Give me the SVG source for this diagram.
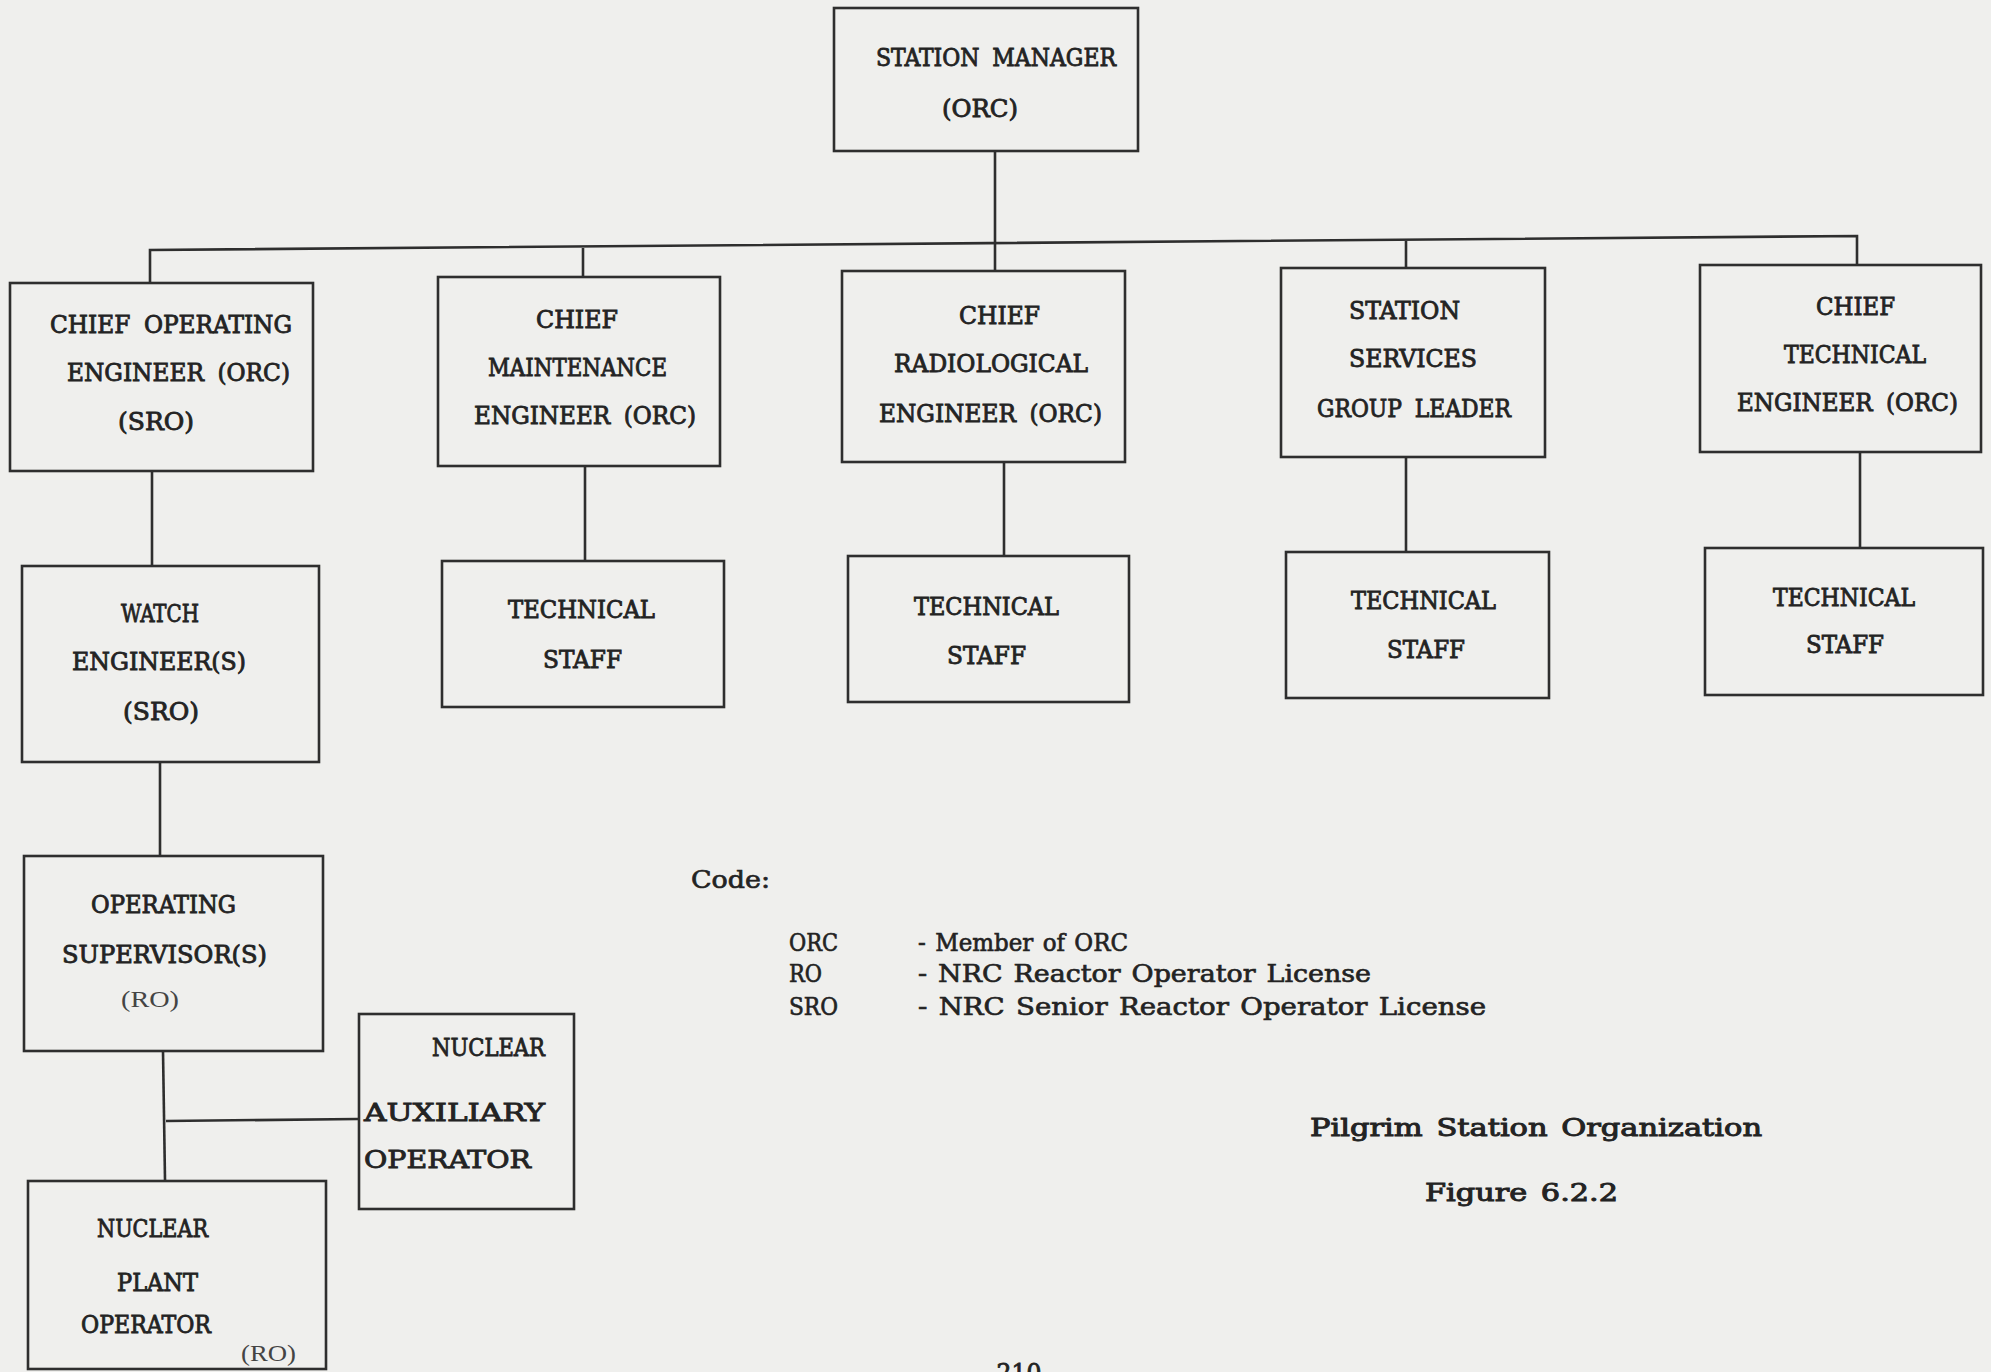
<svg xmlns="http://www.w3.org/2000/svg" width="1991" height="1372" viewBox="0 0 1991 1372">
<style>
.bg{fill:#efefed}
.box{fill:none;stroke:#2e2e2e;stroke-width:2.6}
.ln{fill:none;stroke:#2e2e2e;stroke-width:2.6}
text{font-family:"DejaVu Serif Condensed","DejaVu Serif","Liberation Serif",serif;font-stretch:condensed;font-size:25px;fill:#232323;stroke:#232323;stroke-width:0.8;word-spacing:6px}
.lg{font-size:24px;stroke-width:0.6;word-spacing:2px}
.cap{stroke-width:0.9;word-spacing:3px}
.sm{font-family:"Liberation Serif","Times New Roman",serif;font-stretch:normal;font-size:24px;fill:#444;stroke-width:0}
</style>
<rect class="bg" x="0" y="0" width="1991" height="1372"/>
<g id="connectors">
<line class="ln" x1="995" y1="151" x2="995" y2="270"/>
<polyline class="ln" points="150,282 150,250 1857,236 1857,264"/>
<line class="ln" x1="583" y1="248" x2="583" y2="276"/>
<line class="ln" x1="1406" y1="241" x2="1406" y2="267"/>
<line class="ln" x1="152" y1="471" x2="152" y2="565"/>
<line class="ln" x1="585" y1="466" x2="585" y2="560"/>
<line class="ln" x1="1004" y1="462" x2="1004" y2="555"/>
<line class="ln" x1="1406" y1="457" x2="1406" y2="551"/>
<line class="ln" x1="1860" y1="452" x2="1860" y2="547"/>
<line class="ln" x1="160" y1="762" x2="160" y2="855"/>
<polyline class="ln" points="163,1051 165,1180"/>
<line class="ln" x1="166" y1="1121" x2="358" y2="1119"/>
</g>
<g id="station-manager">
<rect class="box" x="834" y="8" width="304" height="143"/>
<text x="876" y="66" textLength="240" lengthAdjust="spacingAndGlyphs">STATION MANAGER</text>
<text x="942" y="117" textLength="76" lengthAdjust="spacingAndGlyphs">(ORC)</text>
</g>
<g id="chief-operating-engineer">
<rect class="box" x="10" y="283" width="303" height="188"/>
<text x="50" y="333" textLength="242" lengthAdjust="spacingAndGlyphs">CHIEF OPERATING</text>
<text x="67" y="381" textLength="223" lengthAdjust="spacingAndGlyphs">ENGINEER (ORC)</text>
<text x="118" y="430" textLength="76" lengthAdjust="spacingAndGlyphs">(SRO)</text>
</g>
<g id="chief-maintenance-engineer">
<rect class="box" x="438" y="277" width="282" height="189"/>
<text x="536" y="328" textLength="82" lengthAdjust="spacingAndGlyphs">CHIEF</text>
<text x="488" y="376" textLength="179" lengthAdjust="spacingAndGlyphs">MAINTENANCE</text>
<text x="474" y="424" textLength="222" lengthAdjust="spacingAndGlyphs">ENGINEER (ORC)</text>
</g>
<g id="chief-radiological-engineer">
<rect class="box" x="842" y="271" width="283" height="191"/>
<text x="959" y="324" textLength="81" lengthAdjust="spacingAndGlyphs">CHIEF</text>
<text x="894" y="372" textLength="194" lengthAdjust="spacingAndGlyphs">RADIOLOGICAL</text>
<text x="879" y="422" textLength="223" lengthAdjust="spacingAndGlyphs">ENGINEER (ORC)</text>
</g>
<g id="station-services-group-leader">
<rect class="box" x="1281" y="268" width="264" height="189"/>
<text x="1349" y="319" textLength="111" lengthAdjust="spacingAndGlyphs">STATION</text>
<text x="1349" y="367" textLength="128" lengthAdjust="spacingAndGlyphs">SERVICES</text>
<text x="1317" y="417" textLength="194" lengthAdjust="spacingAndGlyphs">GROUP LEADER</text>
</g>
<g id="chief-technical-engineer">
<rect class="box" x="1700" y="265" width="281" height="187"/>
<text x="1816" y="315" textLength="79" lengthAdjust="spacingAndGlyphs">CHIEF</text>
<text x="1784" y="363" textLength="142" lengthAdjust="spacingAndGlyphs">TECHNICAL</text>
<text x="1737" y="411" textLength="221" lengthAdjust="spacingAndGlyphs">ENGINEER (ORC)</text>
</g>
<g id="watch-engineers">
<rect class="box" x="22" y="566" width="297" height="196"/>
<text x="121" y="622" textLength="78" lengthAdjust="spacingAndGlyphs">WATCH</text>
<text x="72" y="670" textLength="174" lengthAdjust="spacingAndGlyphs">ENGINEER(S)</text>
<text x="123" y="720" textLength="76" lengthAdjust="spacingAndGlyphs">(SRO)</text>
</g>
<g id="technical-staff-1">
<rect class="box" x="442" y="561" width="282" height="146"/>
<text x="508" y="618" textLength="147" lengthAdjust="spacingAndGlyphs">TECHNICAL</text>
<text x="543" y="668" textLength="79" lengthAdjust="spacingAndGlyphs">STAFF</text>
</g>
<g id="technical-staff-2">
<rect class="box" x="848" y="556" width="281" height="146"/>
<text x="914" y="615" textLength="145" lengthAdjust="spacingAndGlyphs">TECHNICAL</text>
<text x="947" y="664" textLength="79" lengthAdjust="spacingAndGlyphs">STAFF</text>
</g>
<g id="technical-staff-3">
<rect class="box" x="1286" y="552" width="263" height="146"/>
<text x="1351" y="609" textLength="145" lengthAdjust="spacingAndGlyphs">TECHNICAL</text>
<text x="1387" y="658" textLength="78" lengthAdjust="spacingAndGlyphs">STAFF</text>
</g>
<g id="technical-staff-4">
<rect class="box" x="1705" y="548" width="278" height="147"/>
<text x="1773" y="606" textLength="142" lengthAdjust="spacingAndGlyphs">TECHNICAL</text>
<text x="1806" y="653" textLength="78" lengthAdjust="spacingAndGlyphs">STAFF</text>
</g>
<g id="operating-supervisors">
<rect class="box" x="24" y="856" width="299" height="195"/>
<text x="91" y="913" textLength="145" lengthAdjust="spacingAndGlyphs">OPERATING</text>
<text x="62" y="963" textLength="205" lengthAdjust="spacingAndGlyphs">SUPERVISOR(S)</text>
<text class="sm" x="121" y="1007" textLength="58" lengthAdjust="spacingAndGlyphs">(RO)</text>
</g>
<g id="nuclear-auxiliary-operator">
<rect class="box" x="359" y="1014" width="215" height="195"/>
<text x="432" y="1056" textLength="113" lengthAdjust="spacingAndGlyphs">NUCLEAR</text>
<text x="364" y="1121" textLength="181" lengthAdjust="spacingAndGlyphs">AUXILIARY</text>
<text x="364" y="1168" textLength="167" lengthAdjust="spacingAndGlyphs">OPERATOR</text>
</g>
<g id="nuclear-plant-operator">
<rect class="box" x="28" y="1181" width="298" height="188"/>
<text x="97" y="1237" textLength="111" lengthAdjust="spacingAndGlyphs">NUCLEAR</text>
<text x="117" y="1291" textLength="81" lengthAdjust="spacingAndGlyphs">PLANT</text>
<text x="81" y="1333" textLength="130" lengthAdjust="spacingAndGlyphs">OPERATOR</text>
<text class="sm" x="241" y="1361" textLength="55" lengthAdjust="spacingAndGlyphs">(RO)</text>
</g>
<g id="legend">
<text class="lg" x="691" y="888" textLength="79" lengthAdjust="spacingAndGlyphs">Code:</text>
<text class="lg" x="789" y="951" textLength="49" lengthAdjust="spacingAndGlyphs">ORC</text>
<text class="lg" x="918" y="951" textLength="210" lengthAdjust="spacingAndGlyphs">- Member of ORC</text>
<text class="lg" x="789" y="982" textLength="33" lengthAdjust="spacingAndGlyphs">RO</text>
<text class="lg" x="918" y="982" textLength="453" lengthAdjust="spacingAndGlyphs">- NRC Reactor Operator License</text>
<text class="lg" x="789" y="1015" textLength="49" lengthAdjust="spacingAndGlyphs">SRO</text>
<text class="lg" x="918" y="1015" textLength="568" lengthAdjust="spacingAndGlyphs">- NRC Senior Reactor Operator License</text>
</g>
<g id="caption">
<text class="cap" x="1310" y="1136" textLength="452" lengthAdjust="spacingAndGlyphs">Pilgrim Station Organization</text>
<text class="cap" x="1425" y="1201" textLength="193" lengthAdjust="spacingAndGlyphs">Figure 6.2.2</text>
<text x="975" y="1381" textLength="88" lengthAdjust="spacingAndGlyphs">- 210 -</text>
</g>
</svg>
